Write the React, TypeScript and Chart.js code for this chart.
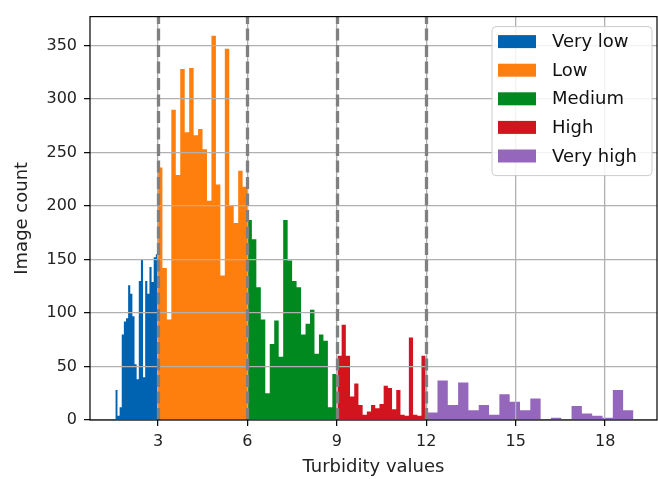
import React, { useEffect, useRef } from "react";
import { Chart, registerables } from "chart.js";

Chart.register(...registerables);

const categories = ["Very low", "Low", "Medium", "High", "Very high"];
const categoryColors = ["#0063b2", "#ff7f0e", "#00891e", "#d2141e", "#9467bd"];

// histogram bin ranges [first edge, last edge] and bin counts per category
const veryLowRange = [1.57, 3.0];
const veryLowCounts = [28, 4, 12, 80, 92, 95, 126, 118, 97, 52, 38, 130, 150, 40, 130, 118, 143, 129, 152, 155];
const lowRange = [3.0, 5.99];
const lowCounts = [236, 142, 94, 290, 229, 328, 269, 329, 266, 272, 253, 205, 359, 220, 135, 347, 201, 184, 233, 218];
const mediumRange = [6.0, 9.0];
const mediumCounts = [187, 169, 124, 94, 25, 71, 93, 59, 187, 149, 130, 124, 80, 90, 103, 62, 80, 74, 12, 43];
const highRange = [9.02, 11.98];
const highCounts = [60, 89, 60, 22, 34, 14, 5, 8, 14, 11, 15, 32, 30, 10, 28, 5, 4, 77, 5, 4, 60];
const veryHighRange = [12.03, 18.95];
const veryHighCounts = [7, 37, 14, 35, 9, 14, 5, 24, 17, 9, 20, 1, 2, 1, 13, 6, 4, 2, 28, 9];

const thresholds = [3, 6, 9, 12];
const xTicks = [3, 6, 9, 12, 15, 18];
const yTicks = [0, 50, 100, 150, 200, 250, 300, 350];
const xMin = 0.72;
const xMax = 19.74;
const yMax = 377;

const FONT = "DejaVu Sans";

function histPoints(range: number[], counts: number[]) {
  const n = counts.length;
  const w = (range[1] - range[0]) / n;
  const pts = counts.map((c, i) => ({ x: range[0] + i * w, y: c }));
  pts.push({ x: range[1], y: counts[n - 1] });
  return pts;
}

const groups = [
  { range: veryLowRange, counts: veryLowCounts },
  { range: lowRange, counts: lowCounts },
  { range: mediumRange, counts: mediumCounts },
  { range: highRange, counts: highCounts },
  { range: veryHighRange, counts: veryHighCounts },
];

const overlayPlugin = {
  id: "overlay",
  afterDraw(chart: any) {
    const { ctx, chartArea: a } = chart;
    const x = chart.scales.x;
    ctx.save();
    // threshold dashed lines
    ctx.strokeStyle = "#808080";
    ctx.lineWidth = 3.3;
    ctx.setLineDash([12, 4.5]);
    thresholds.forEach((t) => {
      const px = Math.round(x.getPixelForValue(t)) + 0.5;
      ctx.beginPath();
      ctx.moveTo(px, a.bottom);
      ctx.lineTo(px, a.top);
      ctx.stroke();
    });
    ctx.setLineDash([]);
    // spines
    ctx.strokeStyle = "#000";
    ctx.lineWidth = 1.2;
    ctx.strokeRect(a.left, a.top, a.right - a.left, a.bottom - a.top);
    // legend
    const bw = 160;
    const bh = 149;
    const bx = a.right - 5 - bw;
    const by = a.top + 10;
    ctx.beginPath();
    const r = 4;
    ctx.moveTo(bx + r, by);
    ctx.lineTo(bx + bw - r, by);
    ctx.quadraticCurveTo(bx + bw, by, bx + bw, by + r);
    ctx.lineTo(bx + bw, by + bh - r);
    ctx.quadraticCurveTo(bx + bw, by + bh, bx + bw - r, by + bh);
    ctx.lineTo(bx + r, by + bh);
    ctx.quadraticCurveTo(bx, by + bh, bx, by + bh - r);
    ctx.lineTo(bx, by + r);
    ctx.quadraticCurveTo(bx, by, bx + r, by);
    ctx.closePath();
    ctx.fillStyle = "rgba(255,255,255,0.85)";
    ctx.fill();
    ctx.strokeStyle = "#cccccc";
    ctx.lineWidth = 1;
    ctx.stroke();
    ctx.font = `18px "${FONT}"`;
    ctx.textBaseline = "middle";
    ctx.textAlign = "left";
    categories.forEach((name, i) => {
      const cy = by + 15 + i * 28.6;
      ctx.fillStyle = categoryColors[i];
      ctx.fillRect(bx + 6, cy - 6.5, 38, 13);
      ctx.fillStyle = "#111";
      ctx.fillText(name, bx + 60, cy + 1);
    });
    ctx.restore();
  },
};

export default function App() {
  const ref = useRef<HTMLCanvasElement>(null);
  useEffect(() => {
    const canvas = ref.current;
    if (!canvas) return;
    const chart = new Chart(canvas, {
      type: "line",
      data: {
        datasets: groups.map((g, i) => ({
          label: categories[i],
          data: histPoints(g.range, g.counts),
          stepped: true,
          fill: "origin",
          backgroundColor: categoryColors[i],
          borderColor: categoryColors[i],
          borderWidth: 0,
          pointRadius: 0,
        })),
      } as any,
      options: {
        responsive: false,
        animation: false,
        layout: { autoPadding: false, padding: { top: 12, right: 1, left: 0, bottom: 0 } },
        plugins: { legend: { display: false }, tooltip: { enabled: false } },
        scales: {
          x: {
            type: "linear",
            min: xMin,
            max: xMax,
            afterBuildTicks: (s: any) => {
              s.ticks = xTicks.map((v) => ({ value: v }));
            },
            afterFit: (s: any) => {
              s.height = 59;
            },
            grid: {
              z: 1,
              color: "#b0b0b0",
              lineWidth: 1.3,
              tickLength: 6,
              tickColor: "#000",
              tickWidth: 1.2,
            },
            border: { display: false },
            ticks: {
              color: "#222",
              font: { family: FONT, size: 16 },
              padding: 6,
              maxRotation: 0,
              autoSkip: false,
            },
            title: {
              display: true,
              text: "Turbidity values",
              color: "#222",
              font: { family: FONT, size: 18 },
              padding: { top: 0, bottom: 1 },
            },
          },
          y: {
            type: "linear",
            min: 0,
            max: yMax,
            afterBuildTicks: (s: any) => {
              s.ticks = yTicks.map((v) => ({ value: v }));
            },
            afterFit: (s: any) => {
              s.width = 90;
            },
            grid: {
              z: 1,
              color: "#b0b0b0",
              lineWidth: 1.3,
              tickLength: 6,
              tickColor: "#000",
              tickWidth: 1.2,
            },
            border: { display: false },
            ticks: {
              color: "#222",
              font: { family: FONT, size: 16 },
              padding: 7,
              autoSkip: false,
            },
            title: {
              display: true,
              text: "Image count",
              color: "#222",
              font: { family: FONT, size: 18 },
              padding: { top: 12, bottom: 0 },
            },
          },
        },
      } as any,
      plugins: [overlayPlugin],
    });
    return () => chart.destroy();
  }, []);
  return (
    <div style={{ position: "fixed", left: 0, top: 0, width: 658, height: 479, background: "#fff" }}>
      <canvas ref={ref} width={658} height={479} style={{ display: "block", width: 658, height: 479 }} />
    </div>
  );
}
